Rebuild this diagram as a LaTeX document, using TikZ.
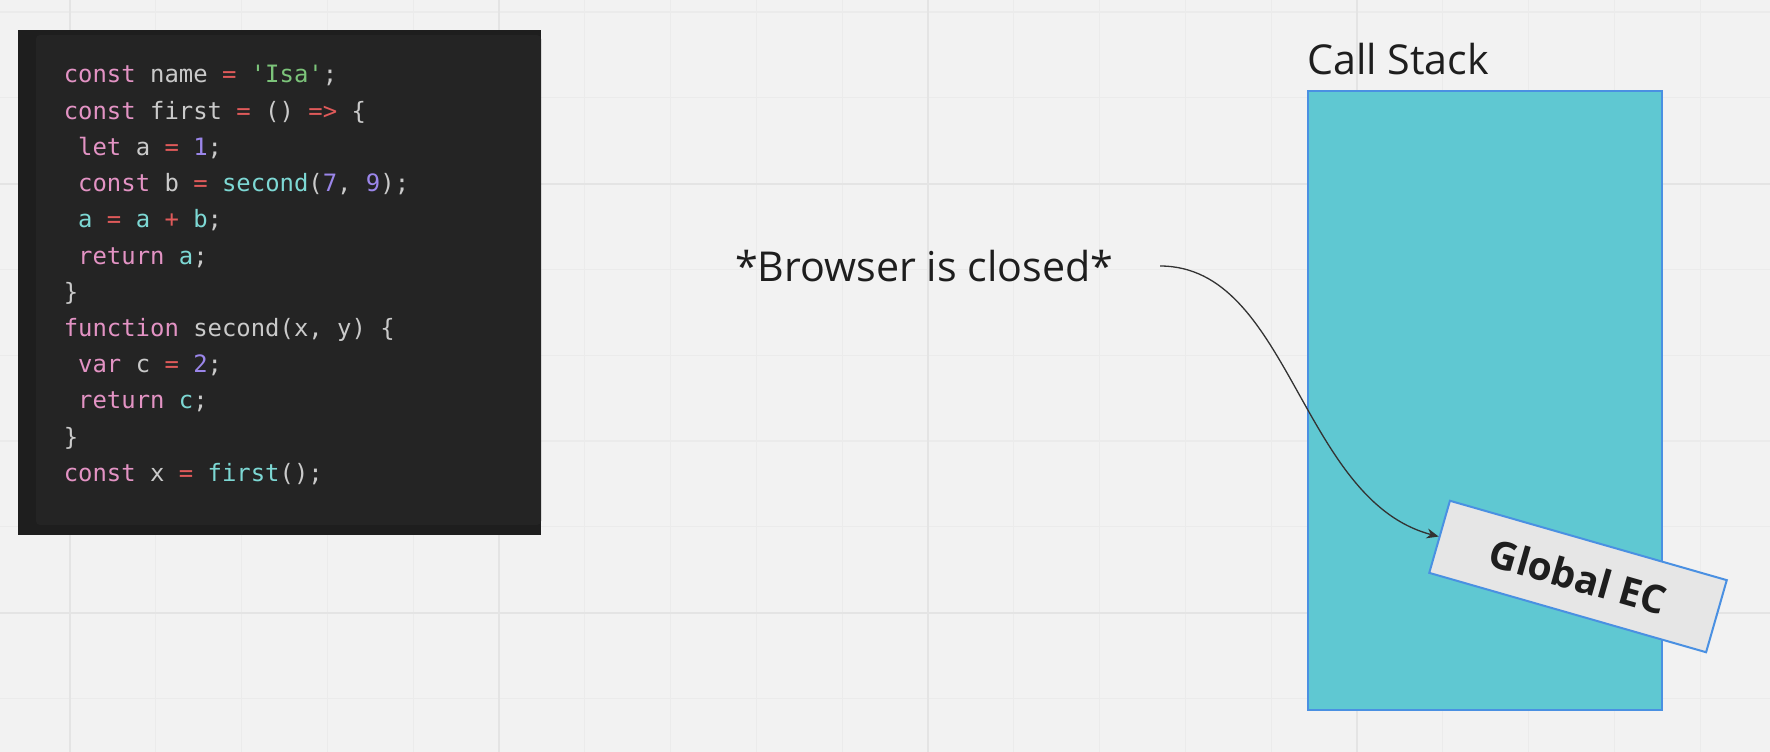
\documentclass[tikz,border=0pt]{standalone}
\usepackage{fontspec}
\setmainfont{Open Sans}
\setmonofont{DejaVu Sans Mono}
\usetikzlibrary{arrows.meta}
\definecolor{bgc}{HTML}{F2F2F2}
\definecolor{gridminor}{HTML}{EBEBEB}
\definecolor{gridmajor}{HTML}{E4E4E4}
\definecolor{codeouter}{HTML}{1E1E1E}
\definecolor{codeinner}{HTML}{242424}
\definecolor{cgray}{HTML}{CACACA}
\definecolor{cpink}{HTML}{E393C4}
\definecolor{cred}{HTML}{E05A5A}
\definecolor{cgreen}{HTML}{7CC47A}
\definecolor{cpurple}{HTML}{9B86EA}
\definecolor{ccyan}{HTML}{7DD8D4}
\definecolor{stackfill}{HTML}{5FC8D2}
\definecolor{stackborder}{HTML}{4A90E2}
\definecolor{ecfill}{HTML}{E6E6E6}
\definecolor{inkc}{HTML}{1E1E1E}
\definecolor{arrowc}{HTML}{333333}
\newcommand\ckw[1]{\textcolor{cpink}{#1}}
\newcommand\cop[1]{\textcolor{cred}{#1}}
\newcommand\cstr[1]{\textcolor{cgreen}{#1}}
\newcommand\cnum[1]{\textcolor{cpurple}{#1}}
\newcommand\cfn[1]{\textcolor{ccyan}{#1}}
\tikzset{
  codeline/.style={anchor=base west, inner sep=0pt, text=cgray,
    font=\ttfamily\fontsize{23.9}{29}\selectfont},
  label40/.style={anchor=base west, inner sep=0pt, text=inkc,
    font=\fontsize{41.2}{48}\selectfont},
  stackbox/.style={fill=stackfill, draw=stackborder, line width=2pt},
  ecbox/.style={fill=ecfill, draw=stackborder, line width=2pt,
    minimum width=288pt, minimum height=75pt, inner sep=0pt,
    text=inkc, font=\bfseries\fontsize{39}{45}\selectfont},
  flow/.style={draw=arrowc, line width=1.3pt,
    -{Stealth[length=12pt,width=10pt]}}
}
\begin{document}
\begin{tikzpicture}[x=1pt,y=-1pt]
\useasboundingbox (0,0) rectangle (1770,752);
\fill[bgc] (0,0) rectangle (1770,752);
% grid
\foreach \i in {-1,...,20} {
  \draw[gridminor, line width=1.2pt] ({70+85.8*\i},0) -- ({70+85.8*\i},752);
}
\foreach \j in {0,...,9} {
  \draw[gridminor, line width=1.2pt] (0,{12+85.8*\j}) -- (1770,{12+85.8*\j});
}
\foreach \i in {0,...,3} {
  \draw[gridmajor, line width=2pt] ({70+429*\i},0) -- ({70+429*\i},752);
}
\foreach \j in {0,1} {
  \draw[gridmajor, line width=2pt] (0,{184+429*\j}) -- (1770,{184+429*\j});
}
% code block
\fill[codeouter] (18,30) rectangle (541,535);
\fill[codeinner, rounded corners=4pt] (36,35) rectangle (541,525);
\node[codeline] (l1) at (63.6,83) {\ckw{const} name \cop{=} \cstr{'Isa'};};
\node[codeline] (l2) at (63.6,119.2) {\ckw{const} first \cop{=} () \cop{=>} \{};
\node[codeline] (l3) at (78,155.4) {\ckw{let} a \cop{=} \cnum{1};};
\node[codeline] (l4) at (78,191.6) {\ckw{const} b \cop{=} \cfn{second}(\cnum{7}, \cnum{9});};
\node[codeline] (l5) at (78,227.8) {\cfn{a} \cop{=} \cfn{a} \cop{+} \cfn{b};};
\node[codeline] (l6) at (78,264) {\ckw{return} \cfn{a};};
\node[codeline] (l7) at (63.6,300.2) {\}};
\node[codeline] (l8) at (63.6,336.4) {\ckw{function} second(x, y) \{};
\node[codeline] (l9) at (78,372.6) {\ckw{var} c \cop{=} \cnum{2};};
\node[codeline] (l10) at (78,408.8) {\ckw{return} \cfn{c};};
\node[codeline] (l11) at (63.6,445) {\}};
\node[codeline] (l12) at (63.6,481.2) {\ckw{const} x \cop{=} \cfn{first}();};
% labels
\node[label40] (browser) at (735,281) {*Browser is closed*};
\node[label40] (cstitle) at (1307,74.5) {Call Stack};
% call stack
\draw[stackbox] (1308,91) rectangle (1662,710);
\coordinate (bstart) at (1160,266);
\node[ecbox, rotate=-16] (geb) at (1578,576.5) {Global EC};
\draw[flow] (bstart) .. controls (1290,266) and (1300,500) .. (geb.west);
\end{tikzpicture}
\end{document}
